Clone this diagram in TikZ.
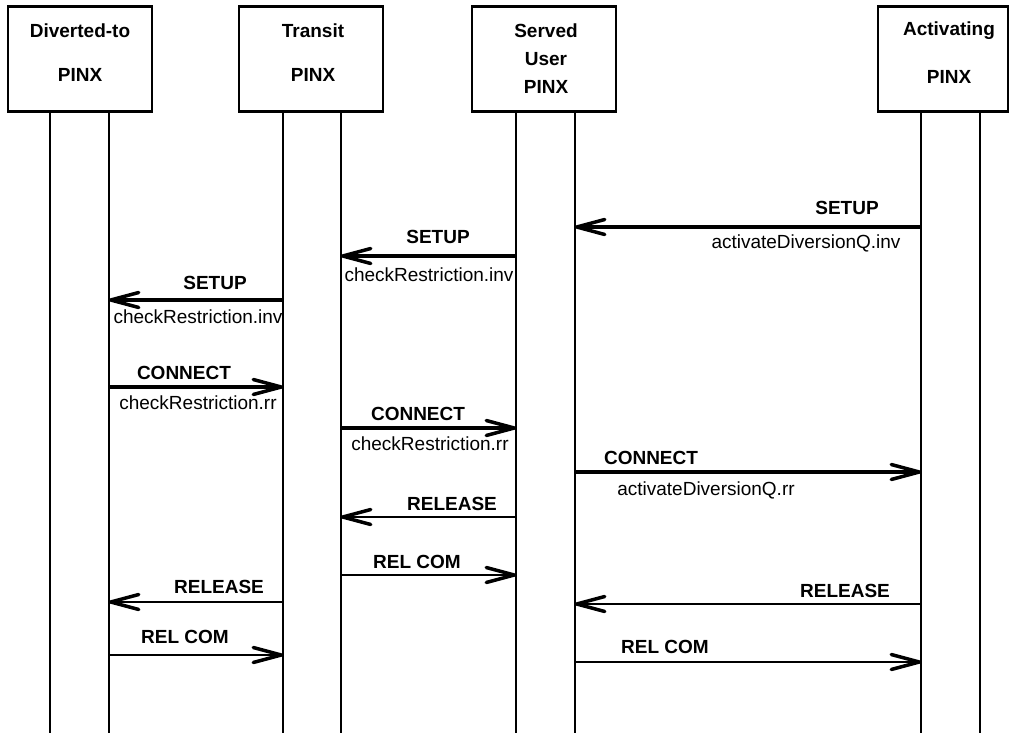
\documentclass[tikz,border=0pt]{standalone}
\usepackage{fontspec}
\setmainfont{Liberation Sans}
\usetikzlibrary{arrows.meta}
\newcommand{\pinxfont}{\fontsize{19}{22}\selectfont}
\tikzset{
  pinx/.style={draw, line width=2.5pt, minimum width=144pt, minimum height=105pt},
  pname/.style={font=\pinxfont\bfseries, inner sep=0pt},
  life/.style={line width=2pt},
  barb/.style={-{Straight Barb[length=28pt,width=15pt,line width=3.5pt,round]}},
  sigthick/.style={barb, line width=4pt},
  sigthin/.style={barb, line width=2pt},
  msg/.style={font=\pinxfont\bfseries, inner sep=0pt},
  op/.style={font=\pinxfont, inner sep=0pt}
}
\begin{document}
\begin{tikzpicture}[x=1pt,y=-1pt]
    \useasboundingbox (0,0) rectangle (1016,733);
    % the four PINX
    \node[pinx] (dt) at (80,59) {};
    \node[pinx] (tr) at (311,59) {};
    \node[pinx] (su) at (544,59) {};
    \node[pinx, minimum width=130pt] (ac) at (943,59) {};
    \node[pname] (dt1) at (80,31) {Diverted-to};
    \node[pname] (dt2) at (80,75) {PINX};
    \node[pname] (tr1) at (313,31) {Transit};
    \node[pname] (tr2) at (313,75) {PINX};
    \node[pname] (su1) at (546,31) {Served};
    \node[pname] (su2) at (546,59) {User};
    \node[pname] (su3) at (546,87) {PINX};
    \node[pname] (ac1) at (949,31) {Activating};
    \node[pname] (ac2) at (949,77) {PINX};
    \foreach \x in {50,109,283,341,516,575,921,980}
        \draw[life] (\x,111) -- (\x,733);
    % ends of the signals
    \foreach \n/\xa/\xb/\y in {1/921/575/227, 2/516/341/256, 3/283/109/300,
        4/109/283/387, 5/341/516/428, 6/575/921/472, 7/516/341/517,
        8/341/516/575, 9/283/109/602, 10/109/283/655, 11/921/575/604,
        12/575/921/662}{
        \coordinate (m\n a) at (\xa,\y);
        \coordinate (m\n b) at (\xb,\y);
    }
    \draw[sigthick] (m1a) -- (m1b);
    \draw[sigthick] (m2a) -- (m2b);
    \draw[sigthick] (m3a) -- (m3b);
    \draw[sigthick] (m4a) -- (m4b);
    \draw[sigthick] (m5a) -- (m5b);
    \draw[sigthick] (m6a) -- (m6b);
    \draw[sigthin] (m7a) -- (m7b);
    \draw[sigthin] (m8a) -- (m8b);
    \draw[sigthin] (m9a) -- (m9b);
    \draw[sigthin] (m10a) -- (m10b);
    \draw[sigthin] (m11a) -- (m11b);
    \draw[sigthin] (m12a) -- (m12b);
    % labels
    \node[msg] (t1) at (847,208) {SETUP};
    \node[op] (p1) at (806,243) {activateDiversionQ.inv};
    \node[msg] (t2) at (438,237) {SETUP};
    \node[op] (p2) at (429,275) {checkRestriction.inv};
    \node[msg] (t3) at (215,283) {SETUP};
    \node[op] (p3) at (198,317) {checkRestriction.inv};
    \node[msg] (t4) at (184,373) {CONNECT};
    \node[op] (p4) at (198,403) {checkRestriction.rr};
    \node[msg] (t5) at (418,414) {CONNECT};
    \node[op] (p5) at (430,444) {checkRestriction.rr};
    \node[msg] (t6) at (651,458) {CONNECT};
    \node[op] (p6) at (706,490) {activateDiversionQ.rr};
    \node[msg] (t7) at (452,504) {RELEASE};
    \node[msg] (t8) at (417,562) {REL COM};
    \node[msg] (t9) at (219,587) {RELEASE};
    \node[msg] (t10) at (185,637) {REL COM};
    \node[msg] (t11) at (845,591) {RELEASE};
    \node[msg] (t12) at (665,647) {REL COM};
\end{tikzpicture}
\end{document}
